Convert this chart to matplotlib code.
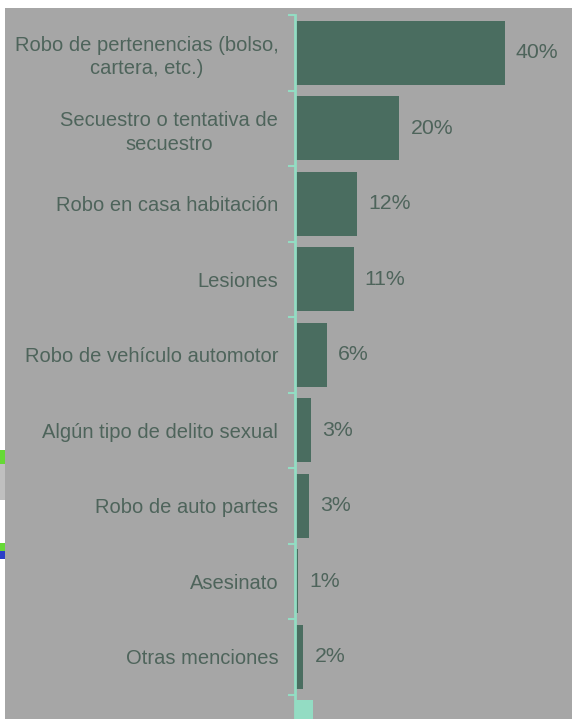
import numpy as np
import matplotlib
matplotlib.use('Agg')
import matplotlib.pyplot as plt
from matplotlib.patches import Rectangle

plt.rcParams['font.family'] = ['Liberation Sans', 'DejaVu Sans']

# ── データ ──────────────────────────────────
categories = [
    'Robo de pertenencias (bolso,\ncartera, etc.)',
    'Secuestro o tentativa de\nsecuestro',
    'Robo en casa habitación',
    'Lesiones',
    'Robo de vehículo automotor',
    'Algún tipo de delito sexual',
    'Robo de auto partes',
    'Asesinato',
    'Otras menciones',
]
bar_values = [40.0, 19.9, 11.8, 11.2, 6.1, 3.0, 2.7, 0.6, 1.6]
pct_labels = ['40%', '20%', '12%', '11%', '6%', '3%', '3%', '1%', '2%']
cut_bar_value = 3.4   # 下端で切れている次のバー

W, H = 572, 719
BG = '#a6a6a6'
BAR = '#4a6d60'
TXT = '#4e645b'
TEAL = '#93dcc3'

fig = plt.figure(figsize=(W / 100, H / 100), dpi=100)
fig.patch.set_facecolor('white')

# グレーパネル
fig.patches.append(Rectangle((5 / W, 0), (W - 5) / W, (H - 8) / H,
                             transform=fig.transFigure, facecolor=BG,
                             edgecolor='none', zorder=-2))
# 左端の切れた装飾
for y0, y1, c in [(450, 464, '#66d936'), (464, 500, '#bfbfbf'),
                  (543, 551, '#66d936'), (551, 559, '#2a3fc8')]:
    fig.patches.append(Rectangle((0, 1 - y1 / H), 5 / W, (y1 - y0) / H,
                                 transform=fig.transFigure, facecolor=c,
                                 edgecolor='none', zorder=-1))

# 軸: 上端 y=15px, カテゴリ間隔 75.5px, 左端 x=295px
step = 75.5
top_px = 15
n_cat = len(categories) + 1
bottom_px = top_px + step * n_cat
ax = fig.add_axes([295 / W, 1 - bottom_px / H, (W - 295) / W, (bottom_px - top_px) / H])
ax.patch.set_alpha(0)
ax.set_zorder(1)

y = np.arange(len(categories))
ax.barh(y, bar_values, height=0.85, color=BAR, zorder=2)
ax.barh([len(categories)], [cut_bar_value], height=0.85, color=TEAL, zorder=2)

for yi, v, lab in zip(y, bar_values, pct_labels):
    ax.annotate(lab, (v, yi), xytext=(11, 0), textcoords='offset pixels',
                ha='left', va='center', fontsize=15.3, color=TXT)

ax.set_xlim(0, (W - 295) / 5.25)
ax.set_ylim(n_cat - 0.5, -0.5)

ax.set_yticks(y)
ax.set_yticklabels(categories, fontsize=14.5, color=TXT, multialignment='center',
                   linespacing=1.3)
ax.set_yticks(np.arange(-0.5, n_cat), minor=True)
ax.tick_params(axis='y', which='major', length=0, pad=12)
ax.tick_params(axis='y', which='minor', length=5, width=1.5, color=TEAL, direction='out')
ax.set_xticks([])

for s in ['top', 'right', 'bottom']:
    ax.spines[s].set_visible(False)
ax.spines['left'].set_color(TEAL)
ax.spines['left'].set_linewidth(2)

fig.savefig('out.png', dpi=100)
